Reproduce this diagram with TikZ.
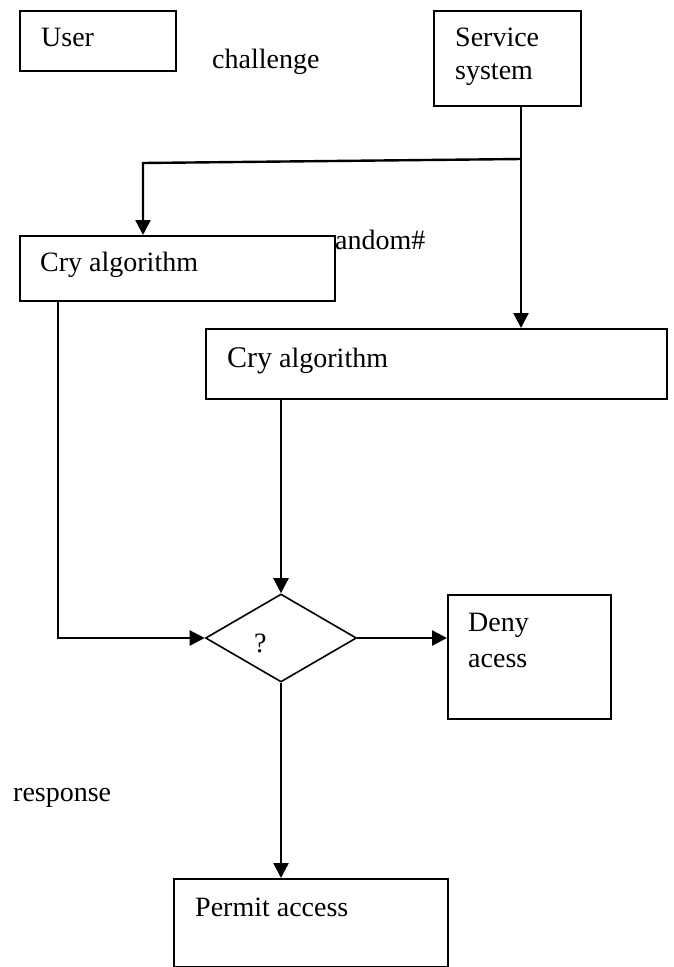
\documentclass[tikz,border=0pt]{standalone}
\usepackage{fontspec}
\setmainfont{Liberation Serif}
\usetikzlibrary{arrows.meta,shapes.geometric}

\tikzset{
  box/.style={draw, line width=1.6pt, inner sep=0pt, anchor=north west},
  txt/.style={inner sep=0pt, anchor=base west},
  arr/.style={line width=2.4pt, -{Triangle[length=15pt,width=15pt]}},
}

\begin{document}
\begin{tikzpicture}[x=1pt, y=-1pt, font=\fontsize{28}{33}\selectfont, line join=miter]
    \useasboundingbox (0,0) rectangle (673,967);
    % cajas
    \node[box, minimum width=156pt, minimum height=60pt] (user) at (19,10) {};
    \node[box, minimum width=147pt, minimum height=95pt] (service) at (433,10) {};
    \node[box, minimum width=315pt, minimum height=65pt] (cry1) at (19,235) {};
    \node[box, minimum width=461pt, minimum height=70pt] (cry2) at (205,328) {};
    \node[box, minimum width=163pt, minimum height=124pt] (deny) at (447,594) {};
    \node[box, minimum width=274pt, minimum height=88pt] (permit) at (173,878) {};
    \node[draw, line width=1.6pt, shape=diamond, aspect=1.72, inner sep=0pt,
          minimum width=151pt, minimum height=88pt] (chk) at (281,638) {};
    % textos
    \node[txt] (tuser) at (41,46) {User};
    \node[txt] (tchal) at (212,68) {challenge};
    \node[txt] (tserv) at (455,46) {Service};
    \node[txt] (tsys) at (455,79) {system};
    \node[txt] (tcry1) at (40,271) {Cry algorithm};
    \node[txt] (trand) at (335,249) {andom\#};
    \node[txt] (tcry2) at (227,367) {{\fontsize{30}{34}\selectfont Cry} algorithm};
    \node[txt] (tq) at (254,652) {?};
    \node[txt] (tdeny) at (468,631) {Deny};
    \node[txt] (taces) at (468,667) {acess};
    \node[txt] (tresp) at (13,801) {response};
    \node[txt] (tperm) at (195,916) {Permit access};
    % flechas
    \coordinate (sp) at (521,159);
    \coordinate (bend) at (143,163);
    \coordinate (lx) at (58,0);
    \draw[arr] (service.south -| sp) -- (cry2.north -| sp);
    \draw[arr] (sp) -- (bend) -- (cry1.north -| bend);
    \draw[arr] (cry1.south -| lx) |- (chk.west);
    \draw[arr] (cry2.south -| chk) -- (chk.north);
    \draw[arr] (chk.east) -- (deny.west |- chk);
    \draw[arr] (chk.south) -- (permit.north -| chk);
\end{tikzpicture}
\end{document}
